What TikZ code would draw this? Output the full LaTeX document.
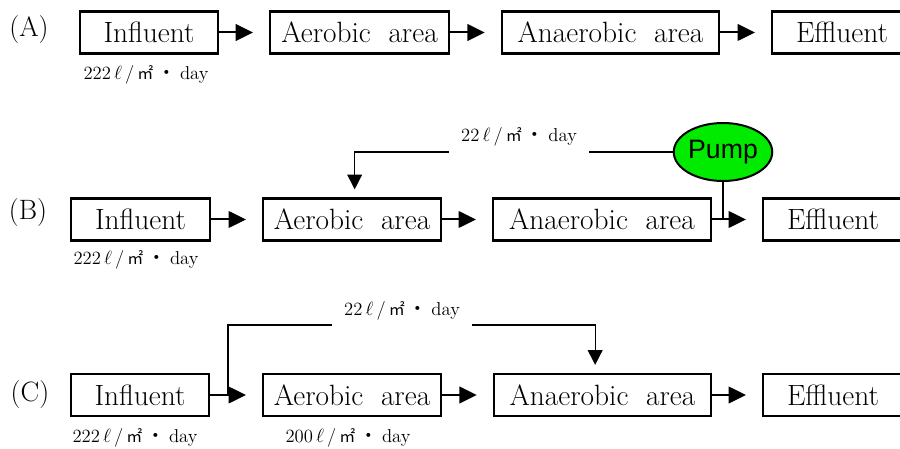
\documentclass[tikz,border=0pt]{standalone}
\usepackage{fontspec}
\newfontfamily\cjk{Noto Sans CJK KR}
\newfontfamily\pumpfont{Liberation Sans}
\usetikzlibrary{arrows.meta,shapes.geometric}
\definecolor{pumpgreen}{RGB}{0,235,0}
\newcommand\flowrate[1]{#1\,$\ell$\,/\,{\cjk\fontsize{12}{14}\selectfont ㎡}\hspace{3pt}{\cjk ・}\hspace{3pt}day}

\begin{document}
\begin{tikzpicture}[x=0.75pt, y=-0.75pt,
    box/.style={draw, line width=1.7pt, minimum height=31.5pt, inner sep=0pt, font=\fontsize{22}{26}\selectfont},
    tag/.style={font=\fontsize{21}{25}\selectfont},
    flow/.style={font=\fontsize{14}{16}\selectfont},
    arr/.style={line width=1.5pt, -{Triangle[length=13pt,width=12.5pt]}, shorten >=12pt},
    back/.style={line width=1pt, -{Triangle[length=11pt,width=11pt]}},
    lbl/.style={flow, fill=white, inner xsep=9pt, minimum height=27pt},
    pump/.style={ellipse, draw, line width=1.5pt, fill=pumpgreen, minimum width=66pt, minimum height=43.5pt, inner sep=0pt, font=\pumpfont\fontsize{20}{24}\selectfont}]
\useasboundingbox (0,0) rectangle (900,449);

% (A)
\node[tag] (tagA) at (29,30) {(A)};
\node[box, minimum width=103.5pt] (infA) at (149,32.5) {Influent};
\node[box, minimum width=134pt] (aerA) at (359.5,32.5) {Aerobic\ \ area};
\node[box, minimum width=163pt] (anaA) at (610.5,32.5) {Anaerobic\ \ area};
\node[box, minimum width=105pt] (effA) at (842,32.5) {Effluent};
\node[flow] (rateA) at (146,75) {\flowrate{222}};
\draw[arr] (infA) -- (aerA);
\draw[arr] (aerA) -- (anaA);
\draw[arr] (anaA) -- (effA);

% (B)
\node[tag] (tagB) at (28,213) {(B)};
\node[box, minimum width=104pt] (infB) at (140.5,219.5) {Influent};
\node[box, minimum width=133.5pt] (aerB) at (352,219.5) {Aerobic\ \ area};
\node[box, minimum width=163.5pt] (anaB) at (602,219.5) {Anaerobic\ \ area};
\node[box, minimum width=105pt] (effB) at (833,219.5) {Effluent};
\node[flow] (rateB0) at (136,260) {\flowrate{222}};
\node[pump] (pump) at (723,152) {Pump};
\draw[back] (pump.west) -| ([xshift=2pt,yshift=6pt]aerB.north);
\draw[line width=1pt] (pump.south) -- (pump.south |- anaB.east);
\draw[arr] (infB) -- (aerB);
\draw[arr] (aerB) -- (anaB);
\draw[arr] (anaB) -- (effB);
\node[lbl] (rateB) at (519,137) {\flowrate{22}};

% (C)
\node[tag] (tagC) at (30,395) {(C)};
\node[box, minimum width=103.5pt] (infC) at (140,395) {Influent};
\node[box, minimum width=133.5pt] (aerC) at (352,395) {Aerobic\ \ area};
\node[box, minimum width=163pt] (anaC) at (602.5,395) {Anaerobic\ \ area};
\node[box, minimum width=105pt] (effC) at (833,395) {Effluent};
\node[flow] (rateC0) at (135,438) {\flowrate{222}};
\node[flow] (rateC1) at (348,438) {\flowrate{200}};
\coordinate (split) at ([xshift=13.5pt]infC.east);
\draw[back] (split) -- ++(0,-70) -| ([xshift=-5.5pt,yshift=6pt]anaC.north);
\draw[arr] (infC) -- (aerC);
\draw[arr] (aerC) -- (anaC);
\draw[arr] (anaC) -- (effC);
\node[lbl] (rateC) at (402,311) {\flowrate{22}};
\end{tikzpicture}
\end{document}
